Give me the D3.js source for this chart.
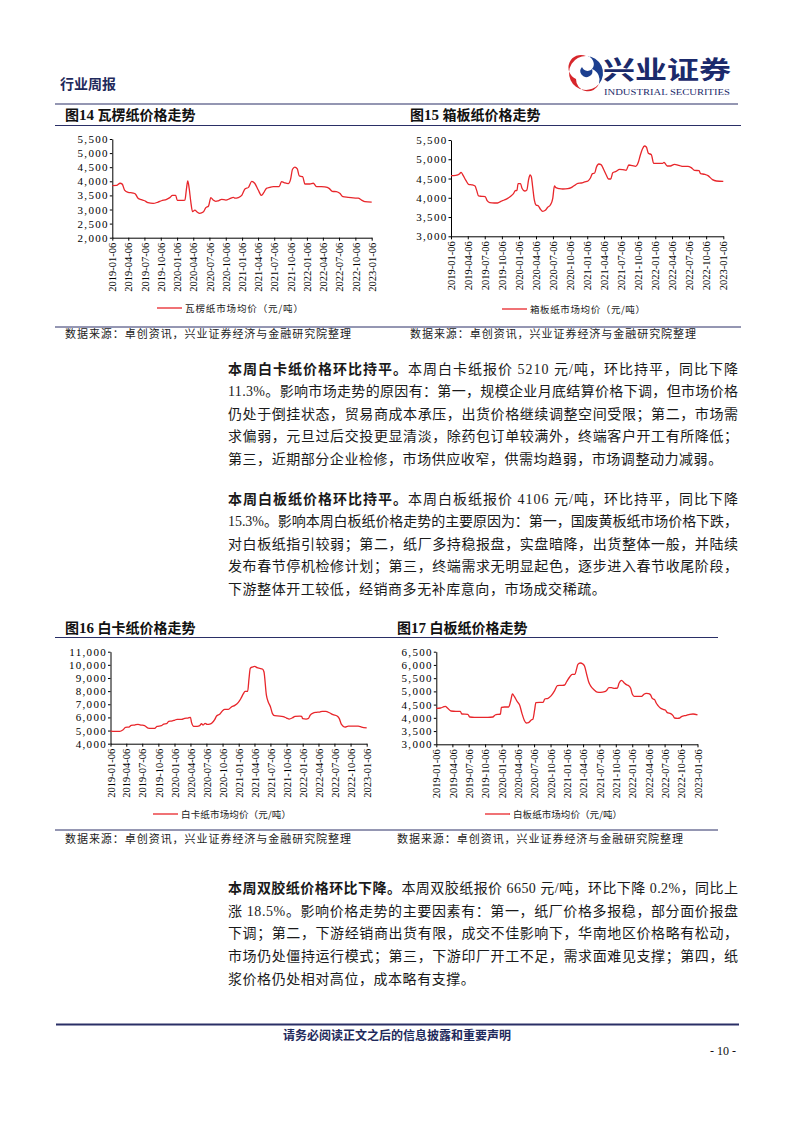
<!DOCTYPE html>
<html><head><meta charset="utf-8">
<script src="https://cdn.jsdelivr.net/npm/d3@7"></script>
<style>body{margin:0;background:#fff}svg{display:block}</style>
</head><body>
<svg id="page" width="794" height="1123"></svg>
<script>
// ---------- data ----------
const tickDates = ["2019-01-06","2019-04-06","2019-07-06","2019-10-06","2020-01-06","2020-04-06","2020-07-06","2020-10-06","2021-01-06","2021-04-06","2021-07-06","2021-10-06","2022-01-06","2022-04-06","2022-07-06","2022-10-06","2023-01-06"];

const corrugatedDates = ["2019-01-06","2019-01-30","2019-02-19","2019-03-03","2019-03-16","2019-04-05","2019-05-03","2019-05-16","2019-05-31","2019-06-19","2019-07-07","2019-07-26","2019-08-24","2019-09-21","2019-10-10","2019-11-08","2019-11-26","2019-12-11","2019-12-29","2020-01-07","2020-01-31","2020-02-19","2020-02-28","2020-03-06","2020-03-14","2020-03-23","2020-04-02","2020-04-15","2020-04-28","2020-05-13","2020-06-01","2020-06-16","2020-07-01","2020-07-14","2020-07-27","2020-08-11","2020-08-25","2020-09-13","2020-10-07","2020-10-29","2020-11-18","2020-11-27","2020-12-15","2021-01-04","2021-01-22","2021-02-11","2021-03-01","2021-03-18","2021-04-07","2021-04-25","2021-05-08","2021-05-23","2021-06-11","2021-06-30","2021-08-03","2021-08-16","2021-09-05","2021-09-23","2021-10-06","2021-10-17","2021-10-30","2021-11-13","2021-11-24","2021-12-13","2021-12-26","2022-01-23","2022-02-11","2022-03-01","2022-03-28","2022-04-16","2022-05-11","2022-05-29","2022-06-21","2022-07-10","2022-07-28","2022-08-26","2022-09-24","2022-10-22","2022-11-10","2022-11-29","2023-01-06"];
const corrugatedValues = [3850,3855,3930,3900,3690,3610,3585,3550,3400,3350,3310,3240,3215,3265,3310,3360,3420,3500,3500,3325,3325,3335,3750,4010,3750,3280,2925,2980,2910,2865,2910,3065,3125,3420,3335,3290,3310,3360,3335,3385,3430,3400,3420,3500,3725,3785,4000,3930,3690,3500,3595,3750,3785,3810,3810,3990,3940,3920,4070,4425,4505,4440,4190,4165,3905,3905,3930,3810,3810,3800,3750,3645,3630,3575,3455,3430,3410,3400,3335,3280,3265];

const boxboardDates = ["2019-01-06","2019-02-01","2019-02-20","2019-03-01","2019-03-11","2019-03-26","2019-04-10","2019-05-01","2019-05-15","2019-05-24","2019-06-03","2019-06-20","2019-07-08","2019-07-20","2019-08-02","2019-08-26","2019-09-13","2019-10-01","2019-10-19","2019-11-06","2019-11-24","2019-12-06","2019-12-17","2019-12-26","2020-01-01","2020-01-14","2020-01-22","2020-02-05","2020-02-17","2020-02-26","2020-03-05","2020-03-12","2020-03-19","2020-03-28","2020-04-06","2020-04-19","2020-04-29","2020-05-12","2020-05-26","2020-06-08","2020-06-22","2020-07-05","2020-07-14","2020-07-22","2020-08-10","2020-08-28","2020-09-24","2020-10-12","2020-10-30","2020-11-17","2020-12-05","2020-12-23","2021-01-10","2021-01-23","2021-02-03","2021-02-15","2021-02-24","2021-03-09","2021-03-21","2021-04-03","2021-04-18","2021-04-30","2021-05-12","2021-05-23","2021-06-10","2021-06-28","2021-07-16","2021-08-03","2021-08-17","2021-09-05","2021-09-23","2021-10-07","2021-10-18","2021-10-29","2021-11-09","2021-11-19","2021-11-30","2021-12-16","2021-12-28","2022-01-21","2022-02-14","2022-02-22","2022-03-11","2022-03-28","2022-04-19","2022-05-13","2022-05-30","2022-06-30","2022-07-18","2022-08-05","2022-08-29","2022-09-06","2022-09-29","2022-10-16","2022-11-09","2022-11-30","2023-01-06"];
const boxboardValues = [4575,4583,4618,4660,4590,4460,4350,4332,4306,4185,4047,4038,4030,3917,3874,3865,3865,3908,3943,3986,4047,4099,4185,4194,4367,4367,4246,4176,4202,4462,4592,4548,4289,3943,3813,3787,3709,3649,3675,3753,3813,3986,4306,4263,4237,4228,4237,4263,4323,4375,4384,4410,4436,4514,4626,4643,4790,4877,4860,4747,4592,4488,4488,4652,4687,4739,4730,4713,4851,4834,4817,4920,5110,5266,5344,5318,5154,5119,4894,4894,4894,4920,4825,4825,4868,4842,4817,4817,4782,4713,4704,4626,4609,4574,4471,4436,4427];

const ivoryDates = ["2019-01-06","2019-01-31","2019-02-28","2019-03-17","2019-04-02","2019-04-21","2019-05-04","2019-05-23","2019-06-12","2019-06-30","2019-07-19","2019-08-08","2019-08-27","2019-09-15","2019-09-28","2019-10-23","2019-11-06","2019-11-21","2019-12-04","2019-12-19","2020-01-08","2020-01-21","2020-02-15","2020-03-04","2020-03-23","2020-04-06","2020-04-12","2020-04-25","2020-05-14","2020-05-29","2020-06-08","2020-06-17","2020-06-29","2020-07-10","2020-07-25","2020-08-08","2020-08-23","2020-09-02","2020-09-21","2020-10-06","2020-10-19","2020-11-08","2020-11-27","2020-12-15","2021-01-04","2021-01-17","2021-02-02","2021-02-11","2021-02-26","2021-03-06","2021-03-13","2021-03-25","2021-04-08","2021-04-21","2021-05-06","2021-05-21","2021-05-30","2021-06-13","2021-06-23","2021-07-06","2021-07-17","2021-07-30","2021-08-28","2021-09-17","2021-10-06","2021-10-21","2021-11-10","2021-11-23","2021-12-21","2021-12-31","2022-01-06","2022-01-25","2022-02-08","2022-02-17","2022-03-06","2022-03-25","2022-04-13","2022-04-28","2022-05-17","2022-06-10","2022-06-28","2022-07-21","2022-08-02","2022-08-15","2022-09-04","2022-09-23","2022-10-21","2022-11-19","2022-12-08","2023-01-06"];
const ivoryValues = [4960,4940,4940,5040,5243,5268,5395,5420,5471,5420,5370,5192,5167,5167,5319,5370,5497,5522,5700,5725,5801,5852,5852,5928,5953,6004,5623,5319,5319,5370,5522,5420,5547,5471,5497,5598,5852,6105,6257,6511,6612,6612,6815,6917,7145,7399,7804,7982,7982,8971,9732,9833,9880,9783,9732,9681,9478,7703,7196,6815,6308,6131,6105,6054,5953,5877,5978,6080,6105,6080,5902,5877,5928,6156,6334,6384,6410,6460,6460,6334,6207,6105,5928,5471,5268,5344,5344,5344,5268,5200];

const duplexDates = ["2019-01-06","2019-01-30","2019-02-18","2019-02-25","2019-03-11","2019-03-29","2019-04-26","2019-05-20","2019-05-29","2019-07-01","2019-07-12","2019-08-07","2019-09-14","2019-10-21","2019-11-18","2019-12-01","2019-12-20","2019-12-31","2020-01-05","2020-01-23","2020-02-15","2020-02-26","2020-03-07","2020-03-18","2020-04-03","2020-04-16","2020-04-29","2020-05-14","2020-05-23","2020-06-05","2020-06-20","2020-06-29","2020-07-09","2020-07-16","2020-08-06","2020-08-25","2020-09-04","2020-09-22","2020-10-10","2020-10-29","2020-11-13","2020-12-05","2020-12-24","2021-01-03","2021-01-21","2021-02-04","2021-02-19","2021-02-28","2021-03-08","2021-03-21","2021-04-05","2021-04-14","2021-04-27","2021-05-07","2021-05-21","2021-06-06","2021-06-24","2021-07-13","2021-08-05","2021-08-14","2021-08-29","2021-09-11","2021-09-30","2021-10-15","2021-10-24","2021-11-07","2021-11-21","2021-12-04","2021-12-17","2021-12-28","2022-01-07","2022-01-17","2022-02-09","2022-02-27","2022-03-12","2022-03-25","2022-04-08","2022-04-19","2022-04-28","2022-05-11","2022-05-20","2022-05-29","2022-06-12","2022-06-27","2022-07-10","2022-07-21","2022-08-09","2022-08-22","2022-08-31","2022-09-16","2022-09-29","2022-10-08","2022-11-05","2022-11-24","2022-12-12","2023-01-06"];
const duplexValues = [4360,4372,4422,4435,4360,4259,4246,4246,4145,4133,4032,4020,4020,4020,4032,4108,4133,4145,4397,4410,4410,4636,4901,4800,4611,4486,4171,3881,3805,3818,3919,3944,4297,4574,4586,4586,4712,4737,4838,5027,5216,5228,5241,5354,5543,5644,5644,5833,6022,6072,6034,5959,5619,5367,5178,5064,4976,4964,4989,5027,5140,5140,5115,5128,5304,5417,5329,5254,5216,5115,4888,4813,4813,4813,4888,4926,4913,4863,4737,4687,4561,4473,4372,4322,4297,4196,4158,4083,3994,3982,3994,4045,4095,4133,4145,4110];

// ---------- text ----------
const sourceText = "数据来源：卓创资讯，兴业证券经济与金融研究院整理";
const para1 = [
  ["本周白卡纸价格环比持平。","本周白卡纸报价 5210 元/吨，环比持平，同比下降"],
  ["","11.3%。影响市场走势的原因有：第一，规模企业月底结算价格下调，但市场价格"],
  ["","仍处于倒挂状态，贸易商成本承压，出货价格继续调整空间受限；第二，市场需"],
  ["","求偏弱，元旦过后交投更显清淡，除药包订单较满外，终端客户开工有所降低；"],
  ["","第三，近期部分企业检修，市场供应收窄，供需均趋弱，市场调整动力减弱。"]
];
const para2 = [
  ["本周白板纸价格环比持平。","本周白板纸报价 4106 元/吨，环比持平，同比下降"],
  ["","15.3%。影响本周白板纸价格走势的主要原因为：第一，国废黄板纸市场价格下跌，"],
  ["","对白板纸指引较弱；第二，纸厂多持稳报盘，实盘暗降，出货整体一般，并陆续"],
  ["","发布春节停机检修计划；第三，终端需求无明显起色，逐步进入春节收尾阶段，"],
  ["","下游整体开工较低，经销商多无补库意向，市场成交稀疏。"]
];
const para3 = [
  ["本周双胶纸价格环比下降。","本周双胶纸报价 6650 元/吨，环比下降 0.2%，同比上"],
  ["","涨 18.5%。影响价格走势的主要因素有：第一，纸厂价格多报稳，部分面价报盘"],
  ["","下调；第二，下游经销商出货有限，成交不佳影响下，华南地区价格略有松动，"],
  ["","市场仍处僵持运行模式；第三，下游印厂开工不足，需求面难见支撑；第四，纸"],
  ["","浆价格仍处相对高位，成本略有支撑。"]
];

// ---------- drawing ----------
const svg = d3.select("#page");
const NAVY = "#2a2f66";
const RED = "#e8262b";
const CJK = "'Liberation Serif','Noto Sans CJK SC',sans-serif";
const parse = d3.timeParse("%Y-%m-%d");
const fmtDate = d3.timeFormat("%Y-%m-%d");

// header
svg.append("text").attr("x",60).attr("y",89).attr("font-family",CJK).attr("font-size",14)
  .attr("font-weight","bold").attr("fill","#1f2a5c").text("行业周报");
// logo swirl
const lg = svg.append("g").attr("transform","translate(586,73)");
lg.append("path").attr("d","M0,-17 A17,17 0 1,0 13,11 A12,12 0 0,1 -10,6 A11,11 0 0,1 0,-17 Z").attr("fill","#d7262b");
lg.append("path").attr("d","M0,-17 A17,17 0 0,1 13,11 A12,12 0 0,0 6,-4 A8,8 0 0,0 0,-17 Z").attr("fill","#1c3f8f");
lg.append("path").attr("d","M-4,-6 A6,6 0 1,0 6,-4 A6,6 0 0,1 -4,-6 Z").attr("fill","#1c3f8f");
svg.append("text").attr("x",603).attr("y",79).attr("font-family","'Noto Sans CJK SC',serif")
  .attr("font-size",25).attr("font-weight","bold").attr("fill","#1b2a6b")
  .attr("textLength",128).attr("lengthAdjust","spacingAndGlyphs").text("兴业证券");
svg.append("text").attr("x",604).attr("y",95).attr("font-family","'Liberation Serif',serif")
  .attr("font-size",8.5).attr("fill","#1b2a6b").attr("textLength",126).attr("lengthAdjust","spacingAndGlyphs")
  .text("INDUSTRIAL SECURITIES");

// rules
function rule(x1,x2,y,w){svg.append("line").attr("x1",x1).attr("x2",x2).attr("y1",y).attr("y2",y)
  .attr("stroke",NAVY).attr("stroke-width",w);}
rule(55,738,104,1.2);
rule(55,741,125.5,1);
rule(55,741,327,1);
rule(55,718,637.5,1);
rule(55,718,830,1);
rule(56,739,1024.5,2);

// charts
const charts = [
  {title:["图","14"," 瓦楞纸价格走势"], tx:65, ty:120, x0:112.3, x1:371.7, yTop:139, yBot:237.7, domain:[2000,5500], step:500,
   dates:corrugatedDates, values:corrugatedValues, legend:"瓦楞纸市场均价（元/吨）", lx:157, ly:308, ltw:118, sx:65, sy:337.5},
  {title:["图","15"," 箱板纸价格走势"], tx:410, ty:120, x0:451, x1:723.3, yTop:140, yBot:236.3, domain:[3000,5500], step:500,
   dates:boxboardDates, values:boxboardValues, legend:"箱板纸市场均价（元/吨）", lx:502, ly:309, ltw:115, sx:410, sy:337.5},
  {title:["图","16"," 白卡纸价格走势"], tx:65, ty:632.5, x0:110.5, x1:366.7, yTop:651.7, yBot:743.7, domain:[4000,11000], step:1000,
   dates:ivoryDates, values:ivoryValues, legend:"白卡纸市场均价（元/吨）", lx:153, ly:814, ltw:110, sx:65, sy:843},
  {title:["图","17"," 白板纸价格走势"], tx:397, ty:632.5, x0:436.3, x1:697.5, yTop:651.7, yBot:744.3, domain:[3000,6500], step:500,
   dates:duplexDates, values:duplexValues, legend:"白板纸市场均价（元/吨）", lx:485, ly:814, ltw:109, sx:397, sy:843}
];

charts.forEach(c => {
  const t = svg.append("text").attr("x",c.tx).attr("y",c.ty).attr("font-family",CJK)
    .attr("font-size",14).attr("font-weight","bold").attr("fill","#111");
  t.append("tspan").text(c.title[0]);
  t.append("tspan").attr("font-family","'Liberation Serif',serif").attr("font-size",15).text(c.title[1]);
  t.append("tspan").text(c.title[2]);

  const x = d3.scaleTime().domain([parse(tickDates[0]), parse(tickDates[tickDates.length-1])]).range([c.x0,c.x1]);
  const y = d3.scaleLinear().domain(c.domain).range([c.yBot,c.yTop]);
  const g = svg.append("g");

  const ya = g.append("g").attr("transform",`translate(${c.x0},0)`)
    .call(d3.axisLeft(y).tickValues(d3.range(c.domain[0], c.domain[1]+1, c.step))
      .tickSize(2.5).tickSizeOuter(0).tickPadding(1).tickFormat(d3.format(",")));
  ya.selectAll("text").attr("font-family","'Liberation Serif',serif").attr("font-size",11)
    .attr("letter-spacing","1.3px").attr("fill","#000");

  const xa = g.append("g").attr("transform",`translate(0,${c.yBot})`)
    .call(d3.axisBottom(x).tickValues(tickDates.map(parse)).tickSize(3).tickSizeOuter(0).tickFormat(fmtDate));
  xa.selectAll("text").attr("font-family","'Liberation Serif',serif").attr("font-size",10.5).attr("fill","#000")
    .attr("transform","rotate(-90)").attr("text-anchor","end").attr("x",-5).attr("y",0).attr("dy","0.35em");
  g.selectAll(".domain, .tick line").attr("stroke","#000").attr("stroke-width",1);

  const pts = c.dates.map((d,i)=>[parse(d), c.values[i]]);
  g.append("path").datum(pts).attr("fill","none").attr("stroke",RED).attr("stroke-width",1.3)
    .attr("d", d3.line().x(d=>x(d[0])).y(d=>y(d[1])).curve(d3.curveMonotoneX));

  g.append("line").attr("x1",c.lx).attr("x2",c.lx+25).attr("y1",c.ly).attr("y2",c.ly)
    .attr("stroke",RED).attr("stroke-width",1.3);
  g.append("text").attr("x",c.lx+28).attr("y",c.ly+3.5).attr("font-family","'Noto Sans CJK SC',sans-serif")
    .attr("font-size",9.5).attr("fill","#222").attr("textLength",c.ltw).attr("lengthAdjust","spacing").text(c.legend);

  svg.append("text").attr("x",c.sx).attr("y",c.sy).attr("font-family","'Noto Sans CJK SC',sans-serif")
    .attr("font-size",11).attr("fill","#222").attr("textLength",286).attr("lengthAdjust","spacing").text(sourceText);
});

// paragraphs
function para(lines, y0, dy){
  lines.forEach((ln,i)=>{
    const last = i === lines.length-1;
    const t = svg.append("text").attr("x",228).attr("y",y0+i*dy+5).attr("font-family",CJK)
      .attr("font-size",14).attr("fill","#1a1a1a");
    if(!last) t.attr("textLength",510).attr("lengthAdjust","spacing");
    else t.attr("letter-spacing","0.55px");
    if(ln[0]) t.append("tspan").attr("font-weight","bold").text(ln[0]);
    t.append("tspan").text(ln[1]);
  });
}
para(para1, 368.5, 22.5);
para(para2, 498.5, 22.5);
para(para3, 888, 22.7);

// footer
svg.append("text").attr("x",397).attr("y",1040).attr("text-anchor","middle").attr("font-family","'Noto Sans CJK SC',sans-serif")
  .attr("font-size",12).attr("font-weight","bold").attr("fill","#1f2a5c").text("请务必阅读正文之后的信息披露和重要声明");
svg.append("text").attr("x",736).attr("y",1055).attr("text-anchor","end").attr("font-family","'Liberation Serif',serif")
  .attr("font-size",12).attr("fill","#111").text("- 10 -");
</script>
</body></html>
